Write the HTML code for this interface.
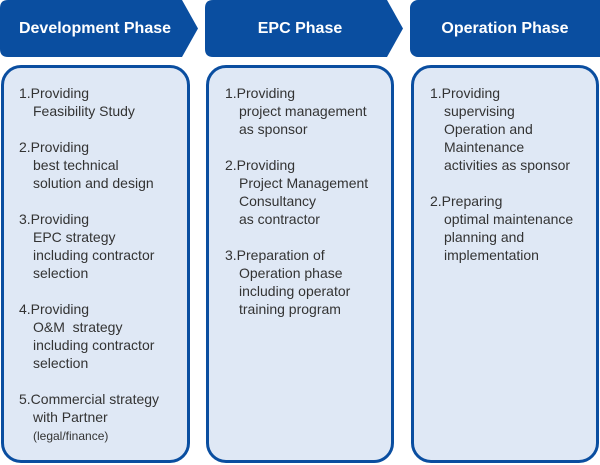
<!DOCTYPE html>
<html><head><style>
body{margin:0;width:600px;height:465px;background:#fff;position:relative;overflow:hidden;font-family:"Liberation Sans","Noto Sans CJK JP",sans-serif;}
.h{position:absolute;top:0;height:57px;color:#fff;font-weight:bold;font-size:16px;line-height:57px;text-align:center}
.b{position:absolute;top:65px;background:#dfe8f5;border:3px solid #0a4ea0;border-radius:20px;box-sizing:border-box;height:398px}
.t{position:absolute;font-size:14px;line-height:18px;color:#333;}
.t p{margin:0 0 18px 0;padding-left:14px;text-indent:-14px}
</style></head><body>
<svg width="600" height="60" style="position:absolute;left:0;top:0">
<path d="M8 0 H182 L198 28.5 L182 57 H8 Q0 57 0 49 V8 Q0 0 8 0Z" fill="#0a4ea0"/>
<path d="M213 0 H387 L403 28.5 L387 57 H213 Q205 57 205 49 V8 Q205 0 213 0Z" fill="#0a4ea0"/>
<rect x="410" y="0" width="198" height="57" rx="8" fill="#0a4ea0"/>
</svg>
<div class="h" style="left:0;width:190px">Development Phase</div>
<div class="h" style="left:205px;width:190px">EPC Phase</div>
<div class="h" style="left:410px;width:190px">Operation Phase</div>
<div class="b" style="left:1px;width:189px"></div>
<div class="b" style="left:206px;width:188px"></div>
<div class="b" style="left:411px;width:188px"></div>
<div class="t" style="left:19px;top:84px;width:170px">
<p>1.Providing<br>Feasibility Study</p>
<p>2.Providing<br>best technical<br>solution and design</p>
<p>3.Providing<br>EPC strategy<br>including contractor<br>selection</p>
<p>4.Providing<br>O&amp;M&nbsp; strategy<br>including contractor<br>selection</p>
<p>5.Commercial strategy<br>with Partner<br><span style="font-size:12px">(legal/finance)</span></p></div>
<div class="t" style="left:225px;top:84px;width:170px">
<p>1.Providing<br>project management<br>as sponsor</p>
<p>2.Providing<br>Project Management<br>Consultancy<br>as contractor</p>
<p>3.Preparation of<br>Operation phase<br>including operator<br>training program</p></div>
<div class="t" style="left:430px;top:84px;width:170px">
<p>1.Providing<br>supervising<br>Operation and<br>Maintenance<br>activities as sponsor</p>
<p>2.Preparing<br>optimal maintenance<br>planning and<br>implementation</p></div>
</body></html>
